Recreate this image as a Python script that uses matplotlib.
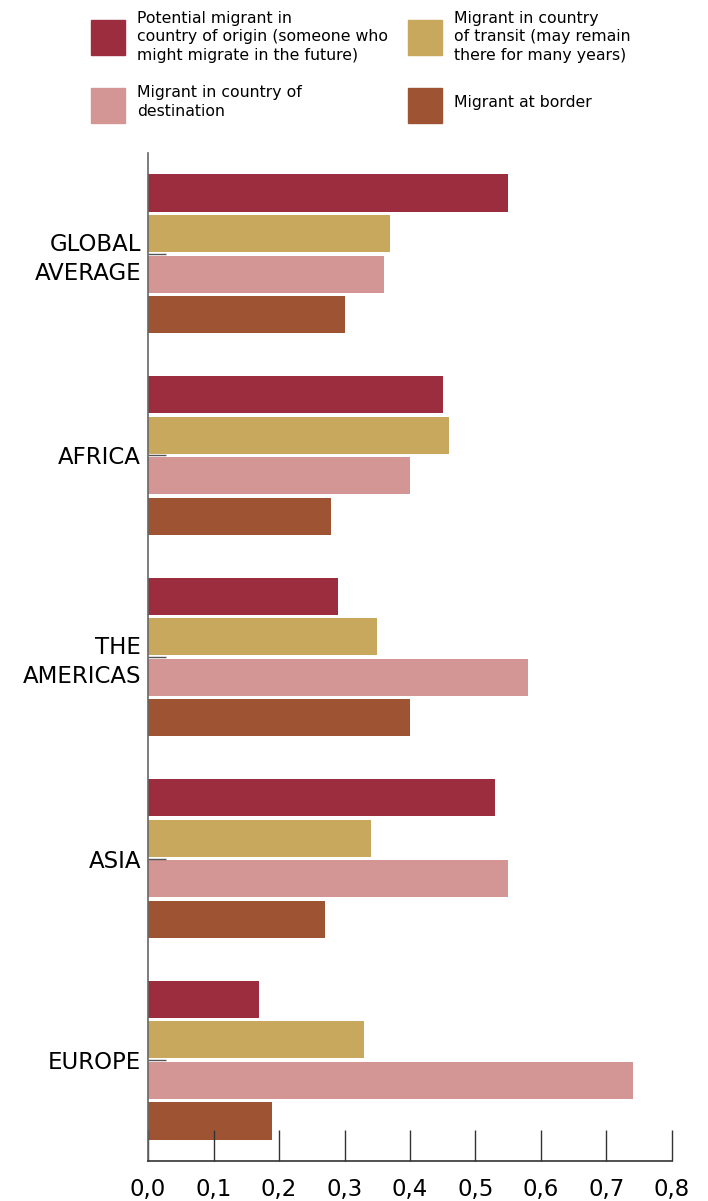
import matplotlib
matplotlib.use("Agg")
import matplotlib.pyplot as plt
import numpy as np
from matplotlib.patches import Rectangle

regions = ["GLOBAL\nAVERAGE", "AFRICA", "THE\nAMERICAS", "ASIA", "EUROPE"]
series_names = [
    "Potential migrant in\ncountry of origin (someone who\nmight migrate in the future)",
    "Migrant in country\nof transit (may remain\nthere for many years)",
    "Migrant in country of\ndestination",
    "Migrant at border",
]
potential = [0.55, 0.45, 0.29, 0.53, 0.17]
transit = [0.37, 0.46, 0.35, 0.34, 0.33]
destination = [0.36, 0.40, 0.58, 0.55, 0.74]
border = [0.30, 0.28, 0.40, 0.27, 0.19]
x_ticks = [0.0, 0.1, 0.2, 0.3, 0.4, 0.5, 0.6, 0.7, 0.8]
x_tick_labels = ["0,0", "0,1", "0,2", "0,3", "0,4", "0,5", "0,6", "0,7", "0,8"]

colors = ["#9B2D3E", "#C8A85C", "#D49595", "#9E5433"]
FONT = "DejaVu Sans"

W, H = 708, 1201
fig = plt.figure(figsize=(W / 100, H / 100), dpi=100)
ax = fig.add_axes([148 / W, 1 - 1161 / H, (672 - 148) / W, (1161 - 153) / H])

series = [potential, transit, destination, border]
pitch = 0.201
height = 0.184
y = np.arange(len(regions))
for i, (vals, c) in enumerate(zip(series, colors)):
    ax.barh(y + (i - 1.5) * pitch, vals, height=height, color=c, linewidth=0)

ax.set_ylim(len(regions) - 0.5, -0.5)
ax.set_xlim(0, 0.8)
ax.set_yticks(y)
ax.set_yticklabels(regions, fontsize=16.5, family=FONT, ha="right",
                   linespacing=1.3)
ax.set_xticks(x_ticks)
ax.set_xticklabels(x_tick_labels, fontsize=16.5, family=FONT)
ax.tick_params(axis="y", direction="in", length=13, width=1, color="#555555", pad=5)
ax.tick_params(axis="x", direction="in", length=22, width=1, color="#333333", pad=12)
for s in ["top", "right"]:
    ax.spines[s].set_visible(False)
ax.spines["left"].set_color("#666666")
ax.spines["bottom"].set_color("#333333")
ax.spines["left"].set_linewidth(1.2)
ax.spines["bottom"].set_linewidth(1.2)

# legend
leg_items = [
    (91, 20, 0), (408, 20, 1), (91, 88, 2), (408, 88, 3),
]
text_y = {0: 37, 1: 37, 2: 102, 3: 102}
for (px, py, k) in leg_items:
    fig.patches.append(Rectangle((px / W, 1 - (py + 35) / H), 34 / W, 35 / H,
                                 transform=fig.transFigure, color=colors[k]))
    fig.text((px + 46) / W, 1 - text_y[k] / H, series_names[k], fontsize=11.3,
             family=FONT, va="center", ha="left", linespacing=1.3)

fig.savefig("out.png", dpi=100, facecolor="white")
